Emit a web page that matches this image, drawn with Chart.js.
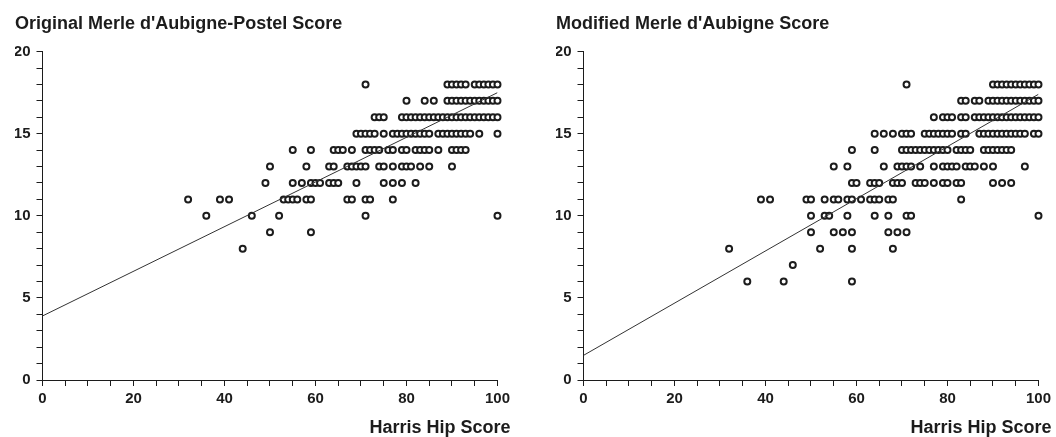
<!DOCTYPE html>
<html>
<head>
<meta charset="utf-8">
<script src="https://cdn.jsdelivr.net/npm/chart.js@4/dist/chart.umd.min.js"></script>
<style>
    body { margin: 0; background: #fff; }
    .panel { position: absolute; top: 0; }
</style>
</head>
<body>
<canvas id="origChart" class="panel" style="left:0px" width="514" height="437"></canvas>
<canvas id="modChart" class="panel" style="left:541px" width="514" height="437"></canvas>
<script>
// Harris Hip Score (x) grouped by score level (y)
const origLevels = [18, 17, 16, 15, 14, 13, 12, 11, 10, 9, 8];
const origHarris = [
    [71, 89, 90, 91, 92, 93, 95, 96, 97, 98, 99, 100],
    [80, 84, 86, 89, 90, 91, 92, 93, 94, 95, 96, 97, 98, 99, 100],
    [73, 74, 75, 79, 80, 81, 82, 83, 84, 85, 86, 87, 88, 89, 90, 91, 92, 93, 94, 95, 96, 97, 98, 99, 100],
    [69, 70, 71, 72, 73, 75, 77, 78, 79, 80, 81, 82, 83, 84, 85, 87, 88, 89, 90, 91, 92, 93, 94, 96, 100],
    [55, 59, 64, 65, 66, 68, 71, 72, 73, 74, 76, 77, 79, 80, 82, 83, 84, 85, 87, 90, 91, 92, 93],
    [50, 58, 63, 64, 67, 68, 69, 70, 71, 74, 75, 77, 79, 80, 81, 83, 85, 90],
    [49, 55, 57, 59, 60, 61, 63, 64, 65, 69, 75, 77, 79, 82],
    [32, 39, 41, 53, 54, 55, 56, 58, 59, 67, 68, 71, 72, 77],
    [36, 46, 52, 71, 100],
    [50, 59],
    [44]
];

const modLevels = [18, 17, 16, 15, 14, 13, 12, 11, 10, 9, 8, 7, 6];
const modHarris = [
    [71, 90, 91, 92, 93, 94, 95, 96, 97, 98, 99, 100],
    [83, 84, 86, 87, 89, 90, 91, 92, 93, 94, 95, 96, 97, 98, 99, 100],
    [77, 79, 80, 81, 83, 84, 86, 87, 88, 89, 90, 91, 92, 93, 94, 95, 96, 97, 98, 99, 100],
    [64, 66, 68, 70, 71, 72, 75, 76, 77, 78, 79, 80, 81, 83, 84, 87, 88, 89, 90, 91, 92, 93, 94, 95, 96, 97, 99, 100],
    [59, 64, 70, 71, 72, 73, 74, 75, 76, 77, 78, 79, 80, 82, 83, 84, 85, 88, 89, 90, 91, 92, 93, 94],
    [55, 58, 66, 69, 70, 71, 72, 74, 77, 79, 80, 81, 82, 84, 85, 86, 88, 90, 97],
    [59, 60, 63, 64, 65, 68, 69, 70, 73, 74, 75, 77, 79, 80, 82, 83, 90, 92, 94],
    [39, 41, 49, 50, 53, 55, 56, 58, 59, 61, 63, 64, 65, 67, 68, 83],
    [50, 53, 54, 58, 64, 67, 71, 72, 100],
    [50, 55, 57, 59, 67, 69, 71],
    [32, 52, 59, 68],
    [46],
    [36, 44, 59]
];

// regression lines: value at x = 0 and x = 100
const fitX = [0, 100];
const origFit = [3.9, 17.5];
const modFit = [1.5, 17.4];

const xTicks = [0, 20, 40, 60, 80, 100];
const yTicks = [0, 5, 10, 15, 20];

const ink = '#1c1c1c';
const fontFamily = 'Arial, "Liberation Sans", Helvetica, sans-serif';

// draws the x axis caption slightly past the right end of the axis, as in the figure
const axisCaption = {
    id: 'axisCaption',
    afterDraw(chart, args, opts) {
        const ctx = chart.ctx;
        ctx.save();
        ctx.font = 'bold 18px ' + fontFamily;
        ctx.fillStyle = ink;
        ctx.textAlign = 'right';
        ctx.textBaseline = 'alphabetic';
        ctx.fillText(opts.text, chart.chartArea.right + 13, 433);
        ctx.restore();
    }
};

function toPoints(levels, harris) {
    const pts = [];
    levels.forEach((lvl, i) => {
        harris[i].forEach(h => pts.push({ x: h, y: lvl }));
    });
    return pts;
}

function renderPanel(canvas, title, levels, harris, fit) {
    new Chart(canvas.getContext('2d'), {
        type: 'scatter',
        data: {
            datasets: [
                {
                    type: 'line',
                    data: fitX.map((x, i) => ({ x: x, y: fit[i] })),
                    borderColor: '#333',
                    borderWidth: 1,
                    pointRadius: 0,
                    order: 0
                },
                {
                    data: toPoints(levels, harris),
                    pointRadius: 3,
                    borderWidth: 2,
                    borderColor: ink,
                    backgroundColor: '#fff',
                    clip: false,
                    order: 1
                }
            ]
        },
        options: {
            responsive: false,
            animation: false,
            devicePixelRatio: 1,
            layout: {
                padding: { left: 15, right: 15, top: 0, bottom: 25 }
            },
            plugins: {
                legend: { display: false },
                tooltip: { enabled: false },
                title: {
                    display: true,
                    text: title,
                    align: 'start',
                    color: ink,
                    font: { family: fontFamily, size: 18, weight: 'bold' },
                    padding: { top: 13, bottom: 17 }
                },
                axisCaption: { text: 'Harris Hip Score' }
            },
            scales: {
                x: {
                    type: 'linear',
                    min: 0,
                    max: 100,
                    border: { color: ink, width: 1 },
                    grid: { drawOnChartArea: false, tickLength: 6, color: ink },
                    ticks: {
                        stepSize: 5,
                        autoSkip: false,
                        maxRotation: 0,
                        padding: 4,
                        color: ink,
                        font: { family: fontFamily, size: 15, weight: 'bold' },
                        callback: v => xTicks.includes(v) ? v : ''
                    }
                },
                y: {
                    min: 0,
                    max: 20,
                    border: { color: ink, width: 1 },
                    grid: { drawOnChartArea: false, tickLength: 6, color: ink },
                    afterFit: scale => { scale.width = 27.5; },
                    ticks: {
                        stepSize: 1,
                        autoSkip: false,
                        padding: 6,
                        color: ink,
                        font: { family: fontFamily, size: 15, weight: 'bold' },
                        callback: v => yTicks.includes(v) ? v : ''
                    }
                }
            }
        },
        plugins: [axisCaption]
    });
}

renderPanel(document.getElementById('origChart'), "Original Merle d'Aubigne-Postel Score", origLevels, origHarris, origFit);
renderPanel(document.getElementById('modChart'), "Modified Merle d'Aubigne Score", modLevels, modHarris, modFit);
</script>
</body>
</html>
